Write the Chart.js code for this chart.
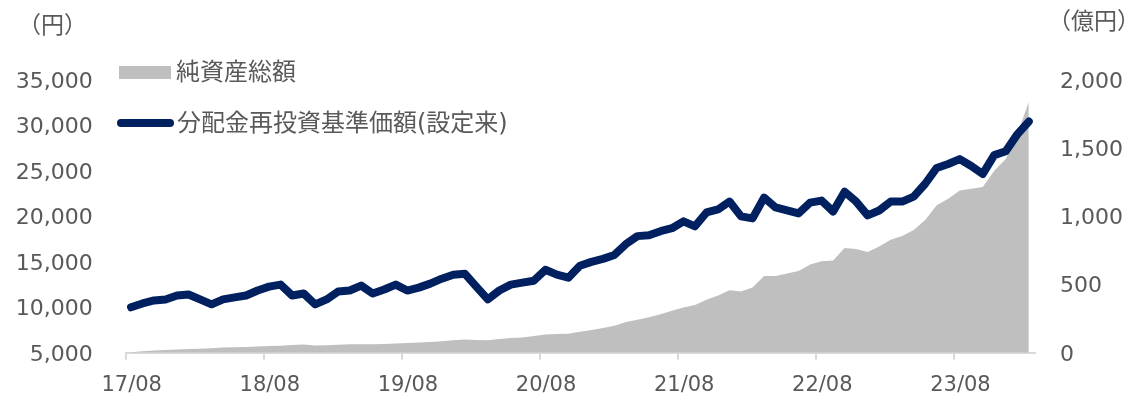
<!DOCTYPE html>
<html>
<head>
<meta charset="utf-8">
<script src="https://cdn.jsdelivr.net/npm/chart.js@4/dist/chart.umd.min.js"></script>
<style>
body { margin: 0; background: #fff; }
#contenedor { position: relative; width: 1135px; height: 399px; font-family: "DejaVu Sans", "Noto Sans CJK JP", sans-serif; color: #595959; }
#grafica { position: absolute; left: 0; top: 0; }
.texto { position: absolute; white-space: nowrap; line-height: 1; }
</style>
</head>
<body>
<div id="contenedor">
  <canvas id="grafica" width="1135" height="399"></canvas>
  <div class="texto" style="left:18px;top:14px;font-size:23px;">（円）</div>
  <div class="texto" style="left:1048px;top:10px;font-size:23px;">（億円）</div>
  <div style="position:absolute;left:119px;top:66px;width:52px;height:13px;background:#bfbfbf;"></div>
  <div class="texto" style="left:176px;top:60px;font-size:24px;">純資産総額</div>
  <div style="position:absolute;left:117px;top:119px;width:57px;height:8px;border-radius:4px;background:#002060;"></div>
  <div class="texto" style="left:177px;top:111px;font-size:24px;">分配金再投資基準価額(設定来)</div>
</div>
<script>
// meses (fin de mes), eje X
var meses = ["17/08","17/09","17/10","17/11","17/12",
  "18/01","18/02","18/03","18/04","18/05","18/06","18/07","18/08","18/09","18/10","18/11","18/12",
  "19/01","19/02","19/03","19/04","19/05","19/06","19/07","19/08","19/09","19/10","19/11","19/12",
  "20/01","20/02","20/03","20/04","20/05","20/06","20/07","20/08","20/09","20/10","20/11","20/12",
  "21/01","21/02","21/03","21/04","21/05","21/06","21/07","21/08","21/09","21/10","21/11","21/12",
  "22/01","22/02","22/03","22/04","22/05","22/06","22/07","22/08","22/09","22/10","22/11","22/12",
  "23/01","23/02","23/03","23/04","23/05","23/06","23/07","23/08","23/09","23/10","23/11","23/12",
  "24/01","24/02"];

// 分配金再投資基準価額 (円)
var valorBase = [10000,10430,10760,10870,11300,11410,10870,10330,10870,11090,
  11300,11850,12280,12500,11300,11520,10330,10870,11740,11850,
  12390,11520,11960,12500,11850,12170,12610,13150,13590,13700,
  12280,10870,11850,12500,12720,12930,14130,13590,13260,14570,
  15000,15330,15760,16960,17830,17930,18370,18700,19460,18910,
  20430,20760,21630,20000,19780,22070,20980,20650,20330,21520,
  21740,20540,22720,21630,20110,20650,21630,21630,22170,23590,
  25330,25760,26300,25540,24670,26740,27170,29020,30430];

// 純資産総額 (億円)
var activoNeto = [4,11,16,20,24,27,30,34,38,41,
  43,46,49,52,58,60,54,56,59,62,
  63,63,65,69,72,76,80,85,92,98,
  94,92,101,109,112,123,134,138,140,154,
  167,181,199,225,243,261,283,308,333,350,
  389,420,459,449,478,563,563,582,599,647,
  672,676,768,761,739,780,828,857,901,973,
  1082,1130,1190,1203,1215,1335,1420,1601,1840];

var etiquetasEje = ["17/08","18/08","19/08","20/08","21/08","22/08","23/08"];

var desfase = 0.46; // los datos son de fin de mes
function puntos(valores) {
    return valores.map(function(v, i) { return { x: i + desfase, y: v }; });
}

var posTicks = etiquetasEje.map(function(e) { return meses.indexOf(e); });

Chart.defaults.font.family = '"DejaVu Sans", "Noto Sans CJK JP", sans-serif';
Chart.defaults.color = '#595959';

var ctx = document.getElementById('grafica').getContext('2d');
var grafico = new Chart(ctx, {
    type: 'line',
    data: {
        datasets: [
            {
                label: '分配金再投資基準価額(設定来)',
                data: puntos(valorBase),
                yAxisID: 'y',
                borderColor: '#002060',
                borderWidth: 8,
                borderCapStyle: 'round',
                borderJoinStyle: 'round',
                pointRadius: 0,
                fill: false,
                tension: 0,
                order: 0,
                clip: false
            },
            {
                label: '純資産総額',
                data: puntos(activoNeto),
                yAxisID: 'y2',
                borderWidth: 0,
                backgroundColor: '#bfbfbf',
                pointRadius: 0,
                fill: 'origin',
                tension: 0,
                order: 1
            }
        ]
    },
    options: {
        responsive: false,
        animation: false,
        events: [],
        layout: { padding: { left: 0, right: 0, top: 80, bottom: 0 } },
        plugins: { legend: { display: false }, tooltip: { enabled: false } },
        scales: {
            x: {
                type: 'linear',
                min: 0,
                max: meses.length,
                afterBuildTicks: function(eje) {
                    eje.ticks = posTicks.map(function(p) { return { value: p }; });
                },
                afterFit: function(eje) { eje.height = 39.8; },
                grid: { drawOnChartArea: false, drawTicks: true, tickLength: 7, tickColor: '#d9d9d9', lineWidth: 2 },
                border: { display: true, color: '#d9d9d9', width: 2 },
                ticks: {
                    autoSkip: false,
                    maxRotation: 0,
                    padding: 13,
                    labelOffset: 6,
                    font: { size: 21 },
                    callback: function(v) { return meses[v] || ''; }
                }
            },
            y: {
                position: 'left',
                min: 5000,
                max: 35000,
                afterFit: function(eje) { eje.width = 125.7; },
                grid: { display: false, drawTicks: false },
                border: { display: false },
                ticks: {
                    stepSize: 5000,
                    padding: 33,
                    labelOffset: 2,
                    font: { size: 22 },
                    callback: function(v) { return v.toLocaleString('en-US'); }
                }
            },
            y2: {
                position: 'right',
                min: 0,
                max: 2000,
                afterFit: function(eje) { eje.width = 100; },
                grid: { display: false, drawTicks: false },
                border: { display: false },
                ticks: {
                    stepSize: 500,
                    padding: 25,
                    labelOffset: 2,
                    font: { size: 22 },
                    callback: function(v) { return v.toLocaleString('en-US'); }
                }
            }
        }
    }
});
</script>
</body>
</html>
